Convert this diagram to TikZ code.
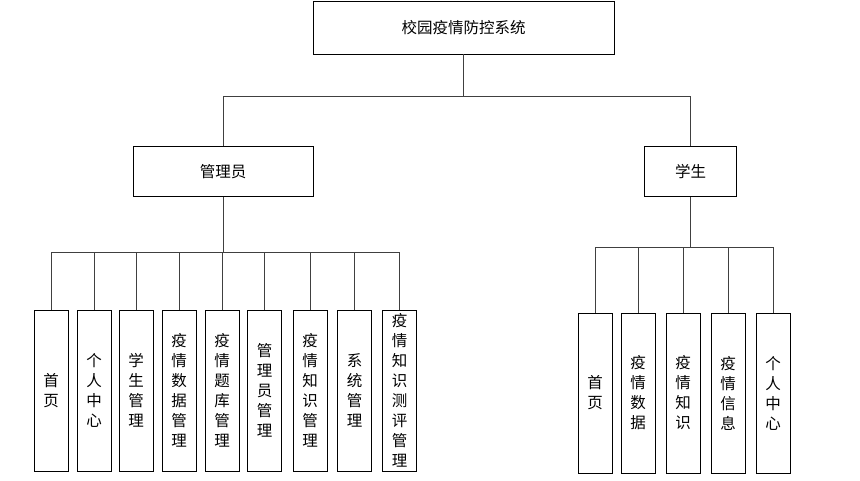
\documentclass[tikz,border=0pt]{standalone}
\usepackage{fontspec}
\newfontfamily\cjk{Noto Sans CJK SC}
\begin{document}
\begin{tikzpicture}[x=1pt,y=-1pt,
  box/.style={draw=black,line width=0.9pt,fill=white,inner sep=0pt,align=center,font=\cjk\fontsize{15.5}{20}\selectfont},
  leaf/.style={box,minimum width=34pt,minimum height=161pt},
  conn/.style={draw=black!75,line width=1pt}]
\useasboundingbox (0,0) rectangle (860,481);
\node[box,minimum width=301pt,minimum height=53pt] (top) at (463.5,27.5) {校园疫情防控系统};
\node[box,minimum width=180pt,minimum height=50pt] (admin) at (223,171.5) {管理员};
\node[box,minimum width=92pt,minimum height=50pt] (stu) at (690.5,171.5) {学生};
% admin leaves
\node[leaf] (a1) at (51,390.5) {首\\页};
\node[leaf] (a2) at (94,390.5) {个\\人\\中\\心};
\node[leaf] (a3) at (136,390.5) {学\\生\\管\\理};
\node[leaf] (a4) at (179,390.5) {疫\\情\\数\\据\\管\\理};
\node[leaf] (a5) at (222,390.5) {疫\\情\\题\\库\\管\\理};
\node[leaf] (a6) at (264.5,390.5) {管\\理\\员\\管\\理};
\node[leaf] (a7) at (310,390.5) {疫\\情\\知\\识\\管\\理};
\node[leaf] (a8) at (354.5,390.5) {系\\统\\管\\理};
\node[leaf] (a9) at (399.5,390.5) {疫\\情\\知\\识\\测\\评\\管\\理};
% student leaves
\node[leaf,minimum height=160pt] (s1) at (595,393) {首\\页};
\node[leaf,minimum height=160pt] (s2) at (638,393) {疫\\情\\数\\据};
\node[leaf,minimum height=160pt] (s3) at (683,393) {疫\\情\\知\\识};
\node[leaf,minimum height=160pt] (s4) at (728,393) {疫\\情\\信\\息};
\node[leaf,minimum height=160pt] (s5) at (773,393) {个\\人\\中\\心};
% connectors
\draw[conn] (top.south) -- (top.south |- 0,97) coordinate (hub);
\draw[conn] (hub) -| (admin.north);
\draw[conn] (hub) -| (stu.north);
\foreach \i in {1,...,9}{
  \draw[conn] (admin.south) -- (admin.south |- 0,253) -| (a\i.north);
}
\foreach \i in {1,...,5}{
  \draw[conn] (stu.south) -- (stu.south |- 0,248) -| (s\i.north);
}
\end{tikzpicture}
\end{document}
